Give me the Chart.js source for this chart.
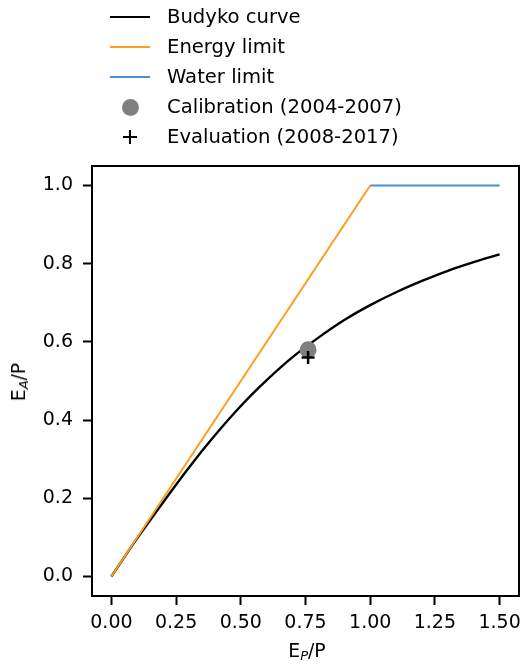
<!DOCTYPE html>
<html>
<head>
<meta charset="utf-8">
<script src="https://cdn.jsdelivr.net/npm/chart.js@4"></script>
<style>
  body { margin: 0; background: #fff; font-family: "DejaVu Sans", sans-serif; color: #000; }
  #wrap { position: relative; width: 528px; height: 670px; }
  canvas { position: absolute; left: 0; top: 0; }
  .row { position: absolute; left: 167px; height: 22px; line-height: 22px; font-size: 19.6px; white-space: nowrap; }
  .swatch { position: absolute; left: 110px; width: 40px; height: 2px; }
  .dot { position: absolute; left: 121.5px; width: 17px; height: 17px; border-radius: 50%; background: #808080; }
  .plus { position: absolute; left: 123px; width: 14px; height: 14px; }
  .plus:before, .plus:after { content: ""; position: absolute; background: #000; }
  .plus:before { left: 0; top: 5.75px; width: 14px; height: 2.5px; }
  .plus:after { left: 5.75px; top: 0; width: 2.5px; height: 14px; }
  .title { position: absolute; font-size: 18.8px; line-height: 22px; white-space: nowrap; }
  .title i { font-size: 13px; position: relative; top: 3px; }
</style>
</head>
<body>
<div id="wrap">
  <canvas id="myChart" width="528" height="670"></canvas>

  <div class="swatch" style="top:16px; background:#000;"></div>
  <div class="row" style="top:6px;">Budyko curve</div>
  <div class="swatch" style="top:46px; background:#ff9d1c;"></div>
  <div class="row" style="top:36px;">Energy limit</div>
  <div class="swatch" style="top:76px; background:#4a90d0;"></div>
  <div class="row" style="top:66px;">Water limit</div>
  <div class="dot" style="top:98.5px;"></div>
  <div class="row" style="top:96px;">Calibration (2004-2007)</div>
  <div class="plus" style="top:130px;"></div>
  <div class="row" style="top:126px;">Evaluation (2008-2017)</div>

  <div class="title" id="xtitle" style="left:307px; top:640px; transform:translateX(-50%);">E<i>P</i>/P</div>
  <div class="title" id="ytitle" style="left:19.5px; top:382px; transform:translate(-50%,-50%) rotate(-90deg);">E<i>A</i>/P</div>
</div>
<script>
const ctx = document.getElementById('myChart');

// E_P/P and E_A/P values
var budykoX = [0, 0.1, 0.2, 0.3, 0.4, 0.5, 0.6, 0.7, 0.8, 0.9, 1.0, 1.1, 1.2, 1.3, 1.4, 1.5];
var budykoY = [0, 0.098, 0.190, 0.279, 0.361, 0.436, 0.502, 0.561, 0.611, 0.656, 0.694, 0.727, 0.756, 0.782, 0.804, 0.824];
var energyX = [0, 1.0];
var energyY = [0, 1.0];
var waterX = [1.0, 1.5];
var waterY = [1.0, 1.0];
var calibX = [0.76];
var calibY = [0.58];
var evalX = [0.76];
var evalY = [0.56];

var xTicks = [0, 0.25, 0.5, 0.75, 1.0, 1.25, 1.5];
var yTicks = [0, 0.2, 0.4, 0.6, 0.8, 1.0];

function pts(xs, ys) {
  return xs.map(function (x, i) { return { x: x, y: ys[i] }; });
}

var tickFont = { family: 'DejaVu Sans', size: 19 };

var frame = {
  id: 'frame',
  afterDraw: function (chart) {
    var a = chart.chartArea;
    var c = chart.ctx;
    c.save();
    c.strokeStyle = '#000';
    c.lineWidth = 2;
    c.strokeRect(a.left, a.top, a.right - a.left, a.bottom - a.top);
    c.restore();
  }
};

var config = {
  type: 'scatter',
  data: {
    datasets: [{
      label: 'Evaluation (2008-2017)',
      data: pts(evalX, evalY),
      pointStyle: 'cross',
      pointRadius: 6.5,
      borderColor: '#000',
      pointBorderWidth: 2.5,
      order: 1
    }, {
      label: 'Calibration (2004-2007)',
      data: pts(calibX, calibY),
      pointStyle: 'circle',
      pointRadius: 8.5,
      backgroundColor: '#808080',
      borderColor: '#808080',
      pointBorderWidth: 0,
      order: 2
    }, {
      label: 'Water limit',
      data: pts(waterX, waterY),
      showLine: true,
      borderColor: '#4a90d0',
      borderWidth: 2,
      pointRadius: 0,
      order: 3
    }, {
      label: 'Energy limit',
      data: pts(energyX, energyY),
      showLine: true,
      borderColor: '#ff9d1c',
      borderWidth: 2,
      pointRadius: 0,
      order: 4
    }, {
      label: 'Budyko curve',
      data: pts(budykoX, budykoY),
      showLine: true,
      borderColor: '#000',
      borderWidth: 2.4,
      pointRadius: 0,
      cubicInterpolationMode: 'monotone',
      order: 5
    }]
  },
  options: {
    responsive: false,
    animation: false,
    layout: { padding: { top: 166, right: 6, left: 0, bottom: 0 } },
    plugins: {
      legend: { display: false },
      tooltip: { enabled: false }
    },
    scales: {
      x: {
        type: 'linear',
        min: -0.075,
        max: 1.575,
        afterBuildTicks: function (s) { s.ticks = xTicks.map(function (v) { return { value: v }; }); },
        afterFit: function (s) { s.height = 74; s.paddingLeft = 0; s.paddingRight = 0; },
        ticks: {
          font: tickFont, color: '#000', padding: 7,
          callback: function (v) { return v.toFixed(2); }
        },
        grid: { drawOnChartArea: false, drawTicks: true, tickLength: 9, tickWidth: 2, tickColor: '#000' },
        border: { display: true, color: '#000', width: 2 }
      },
      y: {
        type: 'linear',
        min: -0.05,
        max: 1.05,
        afterBuildTicks: function (s) { s.ticks = yTicks.map(function (v) { return { value: v }; }); },
        afterFit: function (s) { s.width = 92; s.paddingTop = 0; s.paddingBottom = 0; },
        ticks: {
          font: tickFont, color: '#000', padding: 10,
          callback: function (v) { return v.toFixed(1); }
        },
        grid: { drawOnChartArea: false, drawTicks: true, tickLength: 9, tickWidth: 2, tickColor: '#000' },
        border: { display: true, color: '#000', width: 2 }
      }
    }
  },
  plugins: [frame]
};

var chart = new Chart(ctx, config);
</script>
</body>
</html>
